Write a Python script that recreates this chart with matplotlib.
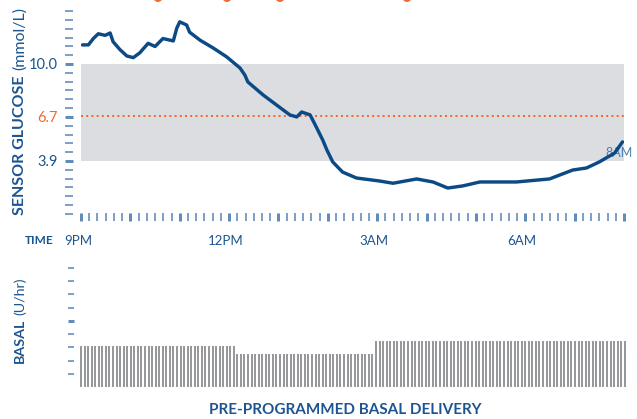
import numpy as np
import matplotlib.pyplot as plt
from matplotlib.patches import Ellipse

plt.rcParams['font.family'] = ['Lato', 'DejaVu Sans']

navy = '#1c5590'
line_blue = '#0b4a85'
tick_light = '#5f8cba'
orange = '#f26a2e'
band_gray = '#dcdde0'
bar_gray = '#97989b'

# sensor glucose, hours after 9PM -> mmol/L
hours = [0.03, 0.15, 0.25, 0.35, 0.49, 0.59, 0.65, 0.79, 0.93, 1.06, 1.19, 1.36,
         1.5, 1.66, 1.87, 1.94, 2.0, 2.14, 2.2, 2.41, 2.68, 2.95, 3.22, 3.32,
         3.38, 3.69, 3.97, 4.23, 4.37, 4.47, 4.64, 4.74, 4.9, 4.98, 5.1, 5.3,
         5.58, 6.05, 6.32, 6.8, 7.13, 7.43, 7.73, 8.08, 8.82, 9.49, 9.96, 10.24,
         10.5, 10.81, 10.97]
glucose = [11.2, 11.2, 11.6, 11.9, 11.8, 11.95, 11.4, 10.9, 10.5, 10.4, 10.7, 11.3,
           11.1, 11.6, 11.45, 12.25, 12.65, 12.45, 12.0, 11.5, 11.0, 10.45, 9.75, 9.3,
           8.87, 8.05, 7.4, 6.8, 6.67, 6.98, 6.8, 6.2, 5.2, 4.6, 3.84, 3.2,
           2.83, 2.64, 2.5, 2.77, 2.58, 2.2, 2.33, 2.58, 2.58, 2.77, 3.33, 3.46,
           3.84, 4.4, 5.1]

range_low, range_high = 3.9, 10.0
target = 6.7
time_labels = ['9PM', '12PM', '3AM', '6AM']
time_label_hours = [0, 3, 6, 9]

# pre-programmed basal schedule
basal_starts = [0, 3.1, 5.94]
basal_rates = [0.31, 0.25, 0.35]
basal_end = 11.07
basal_step = 0.072

W, H = 637, 419
PT = 0.72  # points per pixel at dpi 100
fig = plt.figure(figsize=(W / 100, H / 100), dpi=100)


def box(l, t, r, b):
    return [l / W, 1 - b / H, (r - l) / W, (b - t) / H]


# ---- glucose panel
ax = fig.add_axes(box(81, 8, 624, 221))
ax.set_xlim(0, 11)
ax.set_ylim(0.126, 13.52)
ax.axhspan(range_low, range_high, color=band_gray, lw=0, zorder=0)
ax.axhline(target, color=orange, lw=2 * PT, ls=(0, (1, 1.6)), zorder=1)
ax.text(10.9, 4.4, '8AM', color='#4f7fb0', fontsize=9, ha='center', va='center', zorder=2)
ax.plot(hours, glucose, color=line_blue, lw=3.4 * PT, solid_joinstyle='round',
        solid_capstyle='round', zorder=3)

for s in ['top', 'right', 'bottom', 'left']:
    ax.spines[s].set_visible(False)
ax.spines['left'].set_position(('outward', 8 * PT))

step = (range_high - range_low) / 11
yt = range_low + np.arange(-6, 18) * step
ax.set_yticks(yt)
ylabels = []
for k in range(-6, 18):
    if k == 0:
        ylabels.append('3.9')
    elif k == 5:
        ylabels.append('6.7')
    elif k == 11:
        ylabels.append('10.0')
    else:
        ylabels.append('')
ax.set_yticklabels(ylabels, fontsize=10.5, color=navy)
ax.tick_params(axis='y', length=8 * PT, width=1.6 * PT, color=tick_light, pad=5)
for k, t in zip(range(-6, 18), ax.yaxis.get_major_ticks()):
    if k in (0, 11):
        t.tick1line.set_color(navy)
        t.tick1line.set_markeredgewidth(3 * PT)
    elif k == 5:
        t.tick1line.set_color(orange)
        t.tick1line.set_markeredgewidth(3 * PT)
        t.label1.set_color(orange)

xt = np.arange(0, 67) / 6
ax.set_xticks(xt)
ax.set_xticklabels([])
ax.tick_params(axis='x', direction='in', length=8 * PT, width=1.6 * PT, color=tick_light)
for i, t in enumerate(ax.xaxis.get_major_ticks()):
    if i % 6 == 0:
        t.tick1line.set_color(navy)
        t.tick1line.set_markeredgewidth(3 * PT)

for h, lab in zip(time_label_hours, time_labels):
    ax.text(h - 0.06, -20 / 213, lab, transform=ax.get_xaxis_transform(), ha='center',
            va='center', fontsize=9.5, color=navy)
fig.text(39 / W, 1 - 241 / H, 'TIME', ha='center', va='center', fontsize=8.5,
         weight='bold', color=navy)

# ---- basal panel
bx = fig.add_axes(box(81, 261.4, 624, 387))
bx.set_xlim(0, 11)
bx.set_ylim(0, 0.95)
bt = np.arange(0, basal_end, basal_step)
idx = np.searchsorted(basal_starts, bt, side='right') - 1
bx.vlines(bt, 0, np.array(basal_rates)[idx], colors=bar_gray, lw=2 * PT, clip_on=False)
for s in ['top', 'right', 'bottom', 'left']:
    bx.spines[s].set_visible(False)
bx.spines['left'].set_position(('outward', 7 * PT))
bx.set_xticks([])
bx.set_yticks(np.arange(1, 10) / 10)
bx.set_yticklabels([])
bx.tick_params(axis='y', length=6 * PT, width=1.6 * PT, color=tick_light)
bx.yaxis.get_major_ticks()[4].tick1line.set_color(navy)
bx.yaxis.get_major_ticks()[4].tick1line.set_markeredgewidth(3 * PT)

fig.text(345 / W, 1 - 410 / H, 'PRE-PROGRAMMED BASAL DELIVERY', ha='center',
         va='center', fontsize=11, weight='bold', color=navy)

# ---- rotated axis titles, bold part then unit part
fig.canvas.draw()
r = fig.canvas.get_renderer()


def side_title(bold, unit, bottom_px, size, gap):
    t1 = fig.text(20 / W, 1 - bottom_px / H, bold, rotation=90, ha='center',
                  va='bottom', fontsize=size, weight='bold', color=navy)
    top = t1.get_window_extent(r).y1
    fig.text(20 / W, (top + gap) / H, unit, rotation=90, ha='center', va='bottom',
             fontsize=size, color=navy)


side_title('SENSOR GLUCOSE', '(mmol/L)', 215, 11.5, 6)
side_title('BASAL', '(U/hr)', 363, 10.3, 4)

# orange bits cut off at the top edge
for x in [158, 227, 280, 407]:
    fig.add_artist(Ellipse((x / W, 1 + 5 / H), 11 / W, 14 / H,
                           transform=fig.transFigure, color=orange, lw=0))

fig.savefig('out.png', dpi=100)
